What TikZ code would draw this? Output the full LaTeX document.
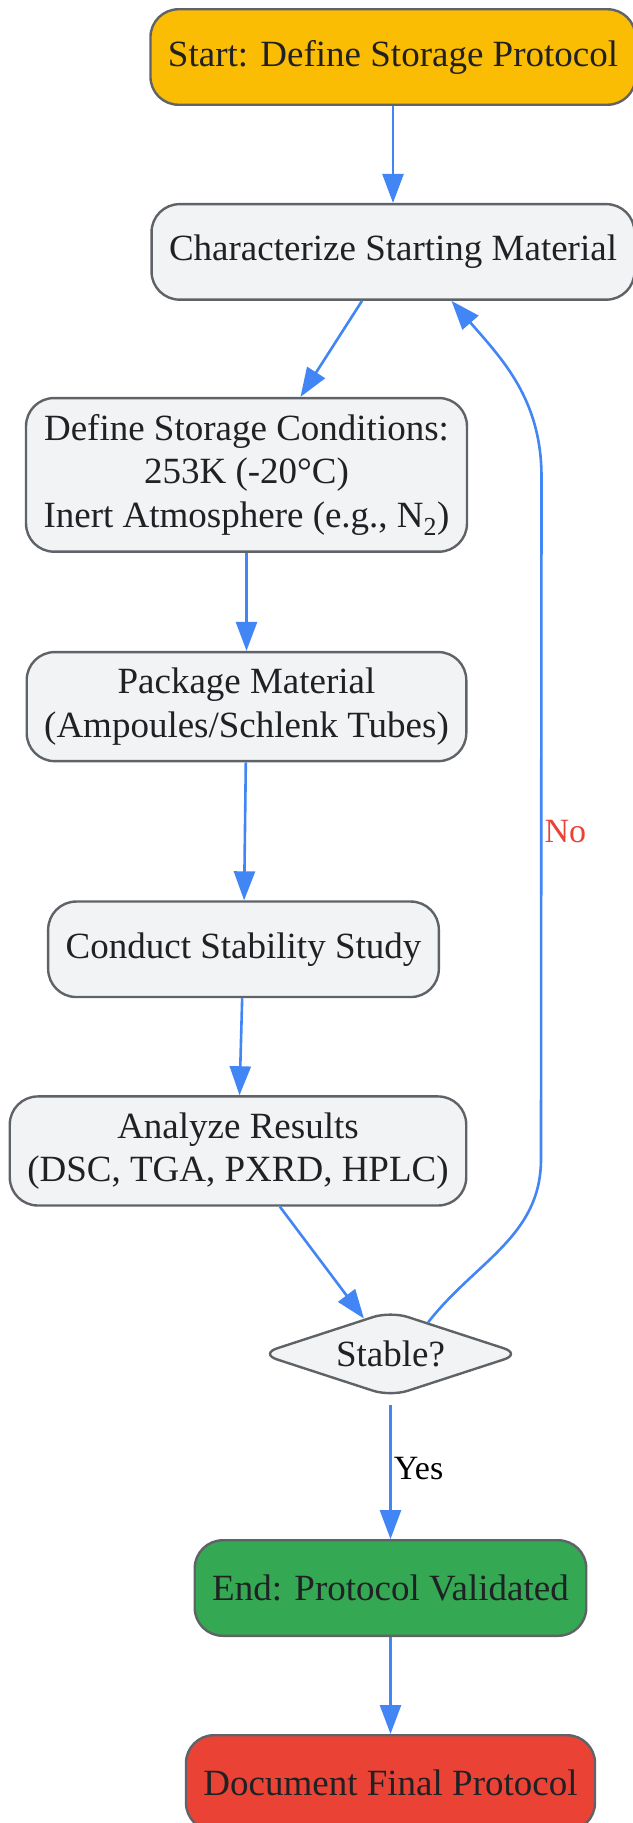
\documentclass[tikz,border=0pt]{standalone}
\usepackage{fontspec}
\setmainfont{Liberation Serif}
\usetikzlibrary{shapes.geometric, arrows.meta, positioning, calc}
\definecolor{flowblue}{HTML}{4285F4}
\definecolor{edgegray}{HTML}{5F6368}
\definecolor{boxgray}{HTML}{F1F3F4}
\definecolor{inkgray}{HTML}{202124}
\definecolor{startyellow}{HTML}{FBBC04}
\definecolor{endgreen}{HTML}{34A853}
\definecolor{docred}{HTML}{EA4335}

\begin{document}
\begin{tikzpicture}[
        font=\fontsize{37pt}{43.5pt}\selectfont,
        node distance=97pt,
        >={Triangle[length=29pt,width=21pt]},
        base/.style={draw=edgegray, line width=2.4pt, align=center, text=inkgray, fill=boxgray, inner xsep=17.5pt, inner ysep=16pt, minimum height=95.5pt},
        process/.style={base, rectangle, rounded corners=28pt},
        decision/.style={base, diamond, rounded corners=18pt, aspect=3, inner sep=0pt, minimum width=262pt, minimum height=86pt},
        arrow/.style={->, line width=2.6pt, color=flowblue},
        yeslabel/.style={font=\fontsize{34pt}{40pt}\selectfont, text=black, inner sep=2pt, anchor=west},
        nolabel/.style={font=\fontsize{34pt}{40pt}\selectfont, text=docred, inner sep=2pt, anchor=west},
    ]
    \useasboundingbox (0,0) rectangle (632pt,-1823pt);

    % Nodes
    \node[process, fill=startyellow] (start) at (393pt,-57pt) {Start: Define Storage Protocol};
    \node[process, below=97pt of start] (charz) {Characterize Starting Material};
    \node[process, below=96pt of charz, xshift=-146.5pt] (conditions) {Define Storage Conditions:\\253K (-20°C)\\Inert Atmosphere (e.g., N\textsubscript{2})};
    \node[process, below=98pt of conditions] (package) {Package Material\\(Ampoules/Schlenk Tubes)};
    \node[process, below=138pt of package, xshift=-3pt] (study) {Conduct Stability Study};
    \node[process, below=of study, xshift=-5.5pt] (analyze) {Analyze Results\\(DSC, TGA, PXRD, HPLC)};
    \node[decision, below=103pt of analyze, xshift=152.5pt] (stable) {Stable?};
    \node[process, fill=endgreen, below=141pt of stable] (validated) {End: Protocol Validated};
    \node[process, fill=docred, below=of validated] (final) {Document Final Protocol};

    % Arrows
    \draw[arrow] (start) -- (charz);
    \draw[arrow] ([xshift=-31pt]charz.south) -- ([xshift=54pt]conditions.north);
    \draw[arrow] (conditions) -- (package);
    \draw[arrow] (package) -- (study);
    \draw[arrow] (study) -- (analyze);
    \draw[arrow] (analyze) -- (stable);
    \draw[arrow, shorten <=7pt] (stable) -- node[yeslabel] {Yes} (validated);
    \draw[arrow] (validated) -- (final);
    \draw[arrow] (stable.40) to[out=52, in=-90] ($(stable.center)+(150.5pt,195pt)$)
        -- node[pos=0.48, nolabel] {No} ($(charz.center)+(148.5pt,-225pt)$)
        to[out=90, in=-49] ([xshift=58.5pt]charz.south);

\end{tikzpicture}
\end{document}
